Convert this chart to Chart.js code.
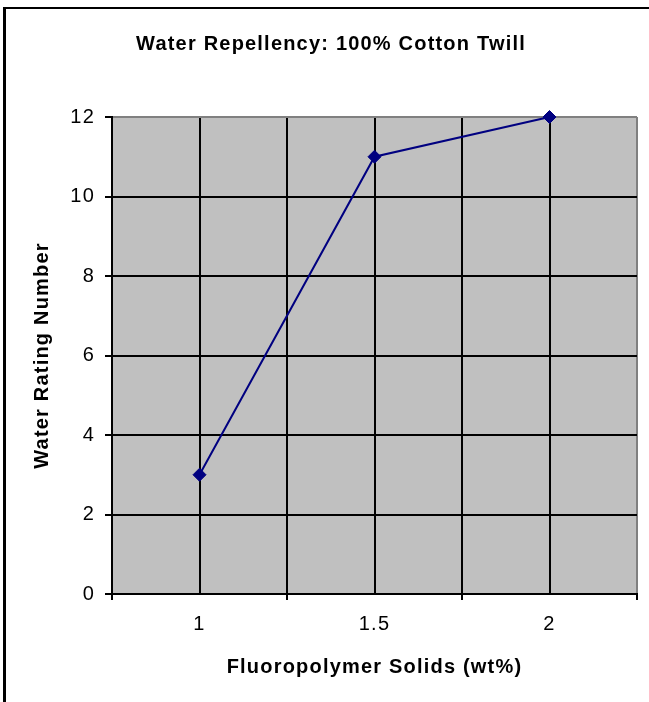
<!DOCTYPE html>
<html>
<head>
<meta charset="utf-8">
<script src="https://cdn.jsdelivr.net/npm/chart.js@4/dist/chart.umd.min.js"></script>
<style>
  html, body { margin: 0; padding: 0; background: #ffffff; }
  #wrap { position: relative; width: 649px; height: 702px; }
</style>
</head>
<body>
<div id="wrap"><canvas id="c" width="649" height="702"></canvas></div>
<script>
// ---- data ----
const categories = [1, 1.5, 2];
const xTickLabels = ['1', '1.5', '2'];
const waterRating = [3, 11, 12];
const yTicks = [0, 2, 4, 6, 8, 10, 12];

const chartTitle = 'Water Repellency: 100% Cotton Twill';
const xTitle = 'Fluoropolymer Solids (wt%)';
const yTitle = 'Water Rating Number';

const points = categories.map((c, i) => ({ x: c, y: waterRating[i] }));

const isBoundary = v => categories.indexOf(v) < 0;

const framePlugin = {
  id: 'frame',
  beforeDraw(chart) {
    const ctx = chart.ctx;
    const a = chart.chartArea;
    ctx.save();
    ctx.fillStyle = '#000000';
    ctx.fillRect(3, 7, chart.width - 3, 2);
    ctx.fillRect(3, 7, 3, chart.height - 7);
    ctx.fillStyle = '#C0C0C0';
    ctx.fillRect(a.left, a.top, a.right - a.left, a.bottom - a.top);
    ctx.restore();
    try { ctx.letterSpacing = '1.2px'; } catch (e) {}
  }
};

Chart.defaults.font.family = '"Liberation Sans", Arial, sans-serif';
Chart.defaults.color = '#000000';

new Chart(document.getElementById('c'), {
  type: 'line',
  data: {
    datasets: [{
      data: points,
      clip: false,
      borderColor: '#000080',
      borderWidth: 2,
      backgroundColor: '#000080',
      pointStyle: 'rectRot',
      pointRadius: 6.5,
      pointBorderWidth: 1,
      pointBorderColor: '#000080',
      pointBackgroundColor: '#000080',
      tension: 0,
      fill: false
    }]
  },
  options: {
    responsive: false,
    animation: false,
    devicePixelRatio: 1,
    layout: { padding: { left: 23, right: 10, top: 0, bottom: 0 } },
    plugins: {
      legend: { display: false },
      tooltip: { enabled: false },
      title: {
        display: true,
        text: chartTitle,
        color: '#000000',
        font: { size: 20, weight: 'bold' },
        padding: { top: 32, bottom: 61 }
      }
    },
    scales: {
      x: {
        type: 'linear',
        min: 0.75,
        max: 2.25,
        afterFit(s) { s.height = 108; },
        ticks: {
          stepSize: 0.25,
          autoSkip: false,
          maxRotation: 0,
          padding: 12,
          font: { size: 20 },
          color: '#000000',
          callback(v) {
            const i = categories.indexOf(v);
            return i >= 0 ? xTickLabels[i] : '';
          }
        },
        grid: {
          color: ctx => (ctx.tick && ctx.tick.value === 2.25) ? '#808080' : '#000000',
          lineWidth: 2,
          drawTicks: true,
          tickLength: 6,
          tickWidth: 2,
          tickColor: ctx => (ctx.tick && isBoundary(ctx.tick.value)) ? '#000000' : 'rgba(0,0,0,0)'
        },
        border: { display: true, color: '#000000', width: 2 },
        title: {
          display: true,
          text: xTitle,
          color: '#000000',
          font: { size: 20, weight: 'bold' },
          padding: { top: 0, bottom: 23 }
        }
      },
      y: {
        type: 'linear',
        min: 0,
        max: 12,
        afterFit(s) { s.width = 89; },
        afterBuildTicks(s) { s.ticks = yTicks.map(v => ({ value: v })); },
        ticks: {
          stepSize: 2,
          padding: 10,
          font: { size: 20 },
          color: '#000000'
        },
        grid: {
          color: ctx => (ctx.tick && ctx.tick.value === 12) ? '#808080' : '#000000',
          lineWidth: 2,
          drawTicks: true,
          tickLength: 7,
          tickWidth: 2,
          tickColor: '#000000'
        },
        border: { display: true, color: '#000000', width: 2 },
        title: {
          display: true,
          text: yTitle,
          color: '#000000',
          font: { size: 20, weight: 'bold' },
          padding: { top: 7, bottom: 0 }
        }
      }
    }
  },
  plugins: [framePlugin]
});
</script>
</body>
</html>
